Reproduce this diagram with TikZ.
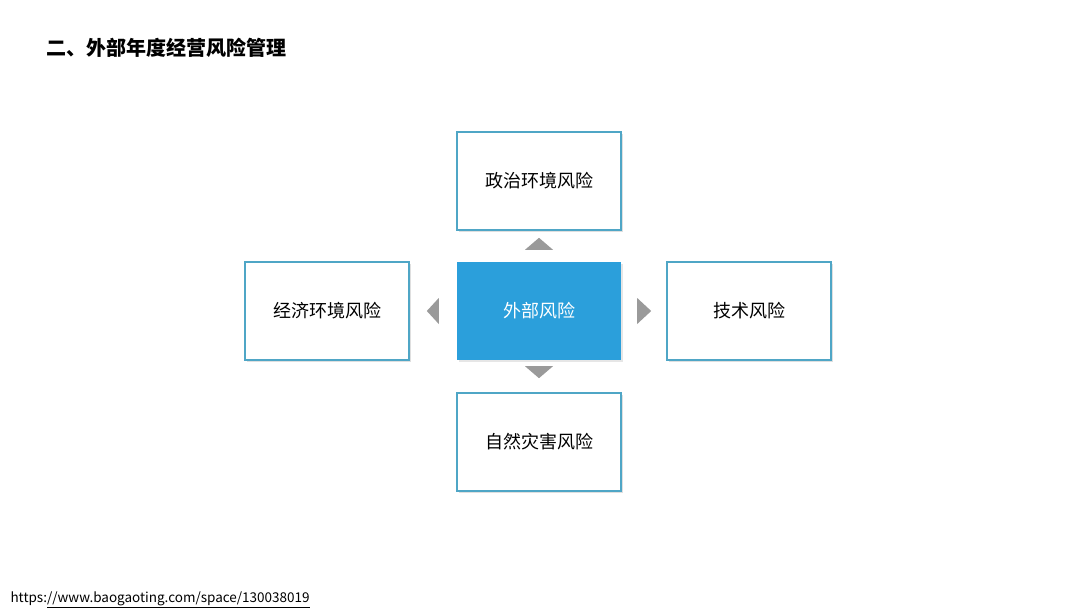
\documentclass[tikz,border=0pt]{standalone}
\usepackage{xcolor}
\usepackage{fontspec}
\setmainfont{Noto Sans CJK SC}
\usepackage{tikz}
\usetikzlibrary{positioning, shadows}

\definecolor{riskblue}{HTML}{2B9FDB}
\definecolor{riskedge}{HTML}{4FA6C6}
\definecolor{tipgray}{HTML}{9A9A9A}

\begin{document}
\begin{tikzpicture}[x=1pt, y=-1pt, every node/.style={font=\fontsize{18}{22}\selectfont}]
    \tikzstyle{riskbox} = [rectangle, draw=riskedge, line width=1.6pt, fill=white, minimum width=164pt, minimum height=98pt, align=center, inner sep=0pt, drop shadow={shadow xshift=2pt, shadow yshift=-2pt, opacity=0.25}]
    \tikzstyle{hubbox} = [rectangle, fill=riskblue, text=white, minimum width=164pt, minimum height=98pt, align=center, inner sep=0pt, drop shadow={shadow xshift=2pt, shadow yshift=-2pt, opacity=0.2}]
    \tikzstyle{tip} = [fill=tipgray]

    \useasboundingbox (0,0) rectangle (1080,608);

    \node[anchor=west, font=\fontsize{20}{24}\selectfont\bfseries] (title) at (43,48) {二、外部年度经营风险管理};

    \node[hubbox] (hub) at (539,311) {外部风险};
    \node[riskbox, above=31pt of hub] (politics) {政治环境风险};
    \node[riskbox, below=32pt of hub] (nature) {自然灾害风险};
    \node[riskbox, left=47pt of hub] (economy) {经济环境风险};
    \node[riskbox, right=45pt of hub] (tech) {技术风险};

    % small gray pointers round the hub
    \fill[tip] ([xshift=-14pt, yshift=12pt]hub.north) -- ([xshift=14pt, yshift=12pt]hub.north) -- ([yshift=24pt]hub.north) -- cycle;
    \fill[tip] ([xshift=-14pt, yshift=-6pt]hub.south) -- ([xshift=14pt, yshift=-6pt]hub.south) -- ([yshift=-18pt]hub.south) -- cycle;
    \fill[tip] ([xshift=-18pt, yshift=13pt]hub.west) -- ([xshift=-18pt, yshift=-13pt]hub.west) -- ([xshift=-30pt]hub.west) -- cycle;
    \fill[tip] ([xshift=16pt, yshift=13pt]hub.east) -- ([xshift=16pt, yshift=-13pt]hub.east) -- ([xshift=30pt]hub.east) -- cycle;

    \node[anchor=base west, font=\fontsize{13.5}{16}\selectfont] (source) at (7,602) {https:\underline{//www.baogaoting.com/space/130038019}};
\end{tikzpicture}
\end{document}
